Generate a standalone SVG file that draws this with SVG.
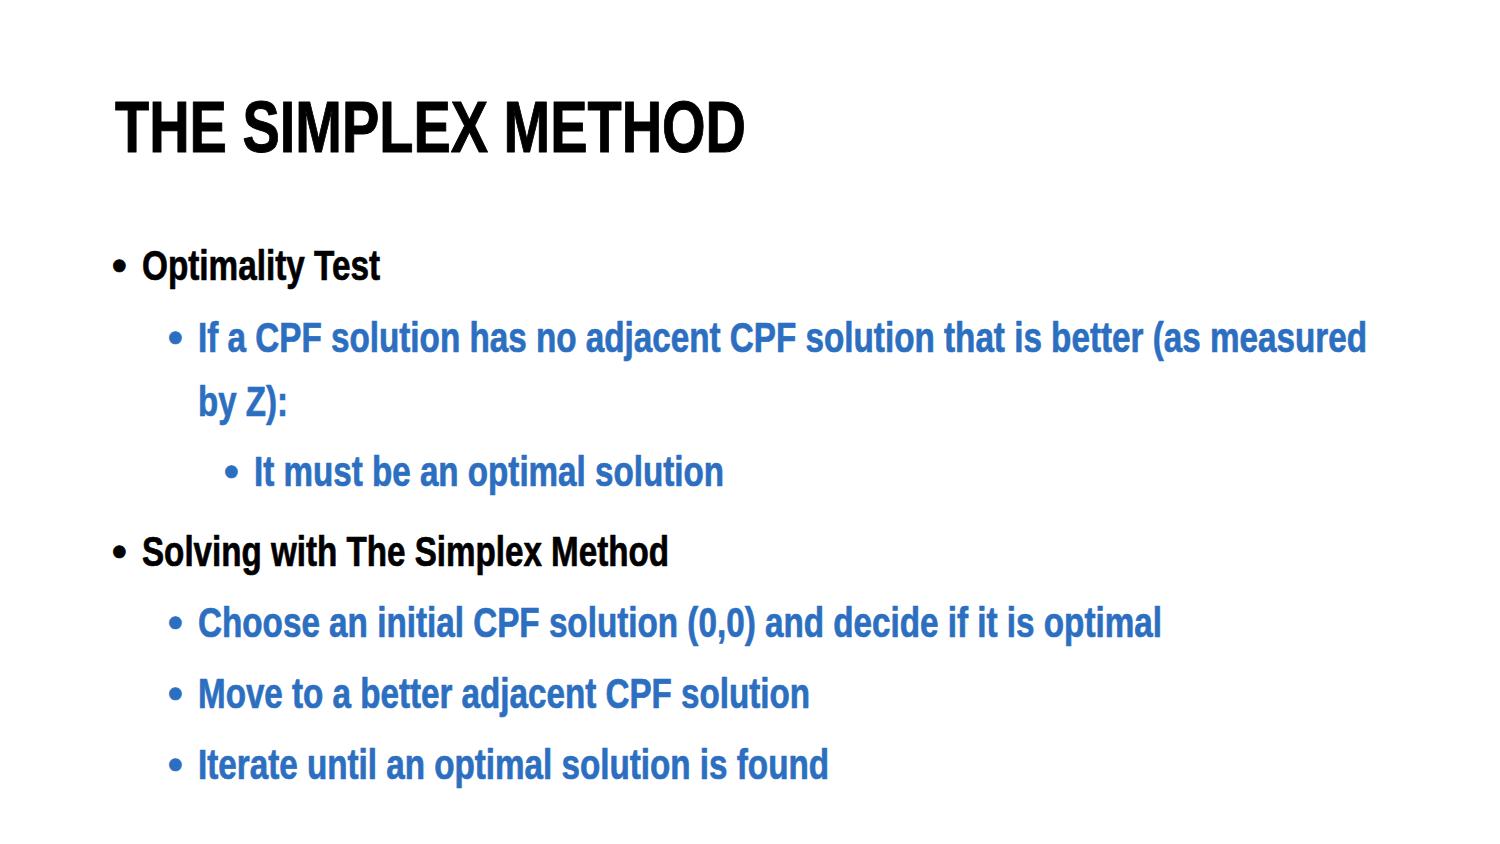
<svg xmlns="http://www.w3.org/2000/svg" width="1500" height="844" viewBox="0 0 1500 844">
<style>
text{font-family:"Liberation Sans Narrow","Liberation Sans",Arial,sans-serif;font-weight:bold;stroke-linejoin:round}
.t{font-size:72px;fill:#000;stroke:#000;stroke-width:1}
.k{font-size:42px;fill:#000;stroke:#000;stroke-width:0.7}
.b{font-size:42px;fill:#2c6fc0;stroke:#2c6fc0;stroke-width:0.7}
.bu{font-family:"Liberation Sans",Arial,sans-serif}
</style>
<rect width="1500" height="844" fill="#fff"/>
<g id="title"><text class="t" x="115" y="152" textLength="631" lengthAdjust="spacingAndGlyphs">THE SIMPLEX METHOD</text></g>
<g id="optimality">
<text class="k bu" x="112" y="280">•</text>
<text class="k" x="142" y="280" textLength="238" lengthAdjust="spacingAndGlyphs">Optimality Test</text>
</g>
<g id="opt-sub1">
<text class="b bu" x="168" y="352">•</text>
<text class="b" x="198" y="352" textLength="1169" lengthAdjust="spacingAndGlyphs">If a CPF solution has no adjacent CPF solution that is better (as measured</text>
<text class="b" x="198" y="416" textLength="90" lengthAdjust="spacingAndGlyphs">by Z):</text>
</g>
<g id="opt-sub2">
<text class="b bu" x="224" y="486">•</text>
<text class="b" x="254" y="486" textLength="470" lengthAdjust="spacingAndGlyphs">It must be an optimal solution</text>
</g>
<g id="solving">
<text class="k bu" x="112" y="566">•</text>
<text class="k" x="142" y="566" textLength="527" lengthAdjust="spacingAndGlyphs">Solving with The Simplex Method</text>
</g>
<g id="sol-1">
<text class="b bu" x="168" y="637">•</text>
<text class="b" x="198" y="637" textLength="964" lengthAdjust="spacingAndGlyphs">Choose an initial CPF solution (0,0) and decide if it is optimal</text>
</g>
<g id="sol-2">
<text class="b bu" x="168" y="708">•</text>
<text class="b" x="198" y="708" textLength="612" lengthAdjust="spacingAndGlyphs">Move to a better adjacent CPF solution</text>
</g>
<g id="sol-3">
<text class="b bu" x="168" y="779">•</text>
<text class="b" x="198" y="779" textLength="631" lengthAdjust="spacingAndGlyphs">Iterate until an optimal solution is found</text>
</g>
</svg>
